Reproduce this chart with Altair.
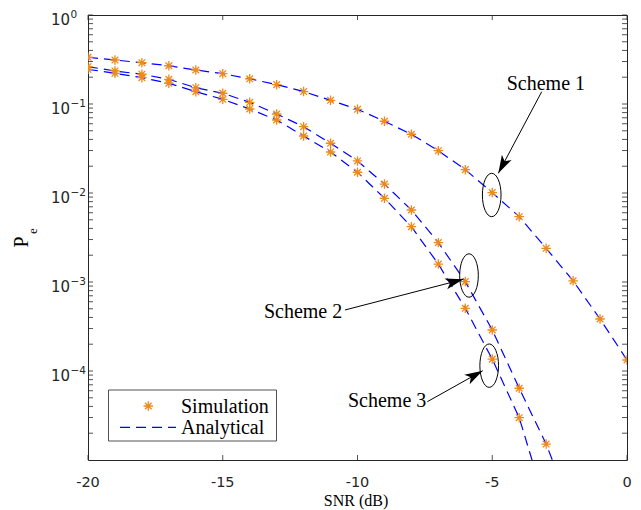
import math
import altair as alt
import pandas as pd

# ---------------- data ----------------
snr_s1 = list(range(-20, 1))
pe_s1 = [0.335, 0.312, 0.291, 0.269, 0.241, 0.219, 0.192, 0.165, 0.138, 0.110,
         0.0872, 0.064, 0.0457, 0.0299, 0.0183, 0.0101, 0.00542, 0.00239,
         0.00103, 3.84e-4, 1.33e-4]

snr_s23 = list(range(-20, -2))
pe_s2 = [0.2625, 0.235, 0.216, 0.1895, 0.1525, 0.132, 0.1045, 0.0772, 0.0556,
         0.0362, 0.0229, 0.0126, 0.00644, 0.00277, 0.00101, 2.89e-4, 6.4e-5,
         1.51e-5]
pe_s3 = [0.2454, 0.2213, 0.1975, 0.171, 0.1375, 0.113, 0.0879, 0.0661, 0.0437,
         0.0289, 0.0171, 0.00872, 0.00418, 0.00159, 5.06e-4, 1.36e-4, 2.99e-5,
         3.0e-6]
# analytical curve continues below the visible range
ana_tail_snr_s2 = [-2]
ana_tail_pe_s2 = [2.5e-6]

x_ticks = [-20, -15, -10, -5, 0]
x_tick_labels = ["-20", "-15", "-10", "-5", "0"]
y_major = [1.0, 1e-1, 1e-2, 1e-3, 1e-4]
y_exp = ["0", "\u22121", "\u22122", "\u22123", "\u22124"]
y_minor = [m * 10.0 ** k for k in range(-5, 0) for m in range(2, 10)]

ann_label = ["Scheme 1", "Scheme 2", "Scheme 3"]
ann_text_snr = [-3.01, -12.02, -8.90]
ann_text_pe = [0.1455, 3.94e-4, 3.99e-5]
ann_from_snr = [-3.165, -10.464, -7.41]
ann_from_pe = [0.1375, 4.85e-4, 4.52e-5]
ann_tip_snr = [-4.775, -6.074, -5.355]
ann_tip_pe = [0.01665, 1.072e-3, 1.007e-4]
ann_ell_snr = [-5.02, -5.863, -5.113]
ann_ell_pe = [0.0095, 1.183e-3, 1.148e-4]

legend_labels = ["Simulation", "Analytical"]

# ---------------- geometry / style ----------------
W, H = 539, 445
X_DOM = [-20, 0]
Y_DOM = [1e-5, 1.0]
BLUE = "#0000FF"
ORANGE = "#EE8A1C"
AX = "#262626"
SERIF = "Liberation Serif"
SANS = "DejaVu Sans"

xs = alt.Scale(domain=X_DOM, nice=False, zero=False)
ys = alt.Scale(type="log", domain=Y_DOM, nice=False)


def X(f):
    return alt.X(f, type="quantitative", scale=xs, axis=None)


def Y(f):
    return alt.Y(f, type="quantitative", scale=ys, axis=None)


def px(s):
    return (s - X_DOM[0]) / (X_DOM[1] - X_DOM[0]) * W


def py(p):
    return (math.log10(Y_DOM[1]) - math.log10(p)) / (math.log10(Y_DOM[1]) - math.log10(Y_DOM[0])) * H


# ---------------- tables ----------------
sim = pd.concat([
    pd.DataFrame({"snr": snr_s1, "pe": pe_s1, "scheme": "Scheme 1"}),
    pd.DataFrame({"snr": snr_s23, "pe": pe_s2, "scheme": "Scheme 2"}),
    pd.DataFrame({"snr": snr_s23, "pe": pe_s3, "scheme": "Scheme 3"}),
], ignore_index=True)
ana = pd.concat([
    sim,
    pd.DataFrame({"snr": ana_tail_snr_s2, "pe": ana_tail_pe_s2, "scheme": "Scheme 2"}),
], ignore_index=True).sort_values(["scheme", "snr"])

ann = pd.DataFrame({
    "label": ann_label, "tx": ann_text_snr, "ty": ann_text_pe,
    "fx": ann_from_snr, "fy": ann_from_pe, "hx": ann_tip_snr, "hy": ann_tip_pe,
    "ex": ann_ell_snr, "ey": ann_ell_pe,
})
ann["ang"] = [
    (math.degrees(math.atan2(px(hx) - px(fx), -(py(hy) - py(fy)))) + 360) % 360
    for fx, fy, hx, hy in zip(ann.fx, ann.fy, ann.hx, ann.hy)
]

xt = pd.DataFrame({"v": x_ticks, "lab": x_tick_labels})
ymaj = pd.DataFrame({"v": y_major, "base": ["10"] * len(y_major), "exp": y_exp})
yall = pd.DataFrame({"v": y_major + y_minor})
leg = pd.DataFrame({"lab": legend_labels})
one = pd.DataFrame({"k": [0]})

STAR = "M-1,0L1,0M0,-1L0,1M-0.7,-0.7L0.7,0.7M-0.7,0.7L0.7,-0.7"
HEAD = "M0,0L0.55,1.8L0,1.35L-0.55,1.8Z"
ELL = ("M0,-1C0.236,-1 0.43,-0.552 0.43,0C0.43,0.552 0.236,1 0,1"
       "C-0.236,1 -0.43,0.552 -0.43,0C-0.43,-0.552 -0.236,-1 0,-1Z")

# ---------------- layers ----------------
lines = alt.Chart(ana).mark_line(color=BLUE, strokeWidth=1.2, strokeDash=[10, 6], clip=True).encode(
    x=X("snr"), y=Y("pe"), detail="scheme:N")
stars = alt.Chart(sim).mark_point(shape=STAR, filled=False, color=ORANGE, strokeWidth=1.3,
                                  size=90, opacity=1, clip=True).encode(x=X("snr"), y=Y("pe"))

# ticks (inward, on all four sides)
tick_len = 5
yt_left = alt.Chart(yall).mark_rule(color=AX, strokeWidth=0.8).encode(
    y=Y("v"), x=alt.value(0), x2=alt.value(tick_len))
yt_right = alt.Chart(yall).mark_rule(color=AX, strokeWidth=0.8).encode(
    y=Y("v"), x=alt.value(W - tick_len), x2=alt.value(W))
xt_bot = alt.Chart(xt).mark_rule(color=AX, strokeWidth=0.8).encode(
    x=X("v"), y=alt.value(H - tick_len), y2=alt.value(H))
xt_top = alt.Chart(xt).mark_rule(color=AX, strokeWidth=0.8).encode(
    x=X("v"), y=alt.value(0), y2=alt.value(tick_len))

# tick labels
x_lab = alt.Chart(xt).mark_text(font=SANS, fontSize=14.5, color=AX, align="center",
                                baseline="alphabetic").encode(
    x=X("v"), y=alt.value(H + 27), text="lab:N")
y_lab10 = alt.Chart(ymaj).mark_text(font=SANS, fontSize=15, color=AX, align="right",
                                    baseline="alphabetic", dy=10).encode(
    y=Y("v"), x=alt.value(-18), text="base:N")
y_labexp = alt.Chart(ymaj).mark_text(font=SANS, fontSize=10.5, color=AX, align="left",
                                     baseline="alphabetic", dy=2.5).encode(
    y=Y("v"), x=alt.value(-17.5), text="exp:N")

# axis titles
x_title = alt.Chart(one).mark_text(font=SERIF, fontSize=16, color="#000", align="center",
                                   baseline="alphabetic", text="SNR (dB)").encode(
    x=alt.value(268), y=alt.value(491))
y_title_p = alt.Chart(one).mark_text(font=SERIF, fontSize=20, color="#000", align="center",
                                     baseline="alphabetic", angle=270, text="P").encode(
    x=alt.value(-60), y=alt.value(227))
y_title_e = alt.Chart(one).mark_text(font=SERIF, fontSize=13, color="#000", align="center",
                                     baseline="alphabetic", angle=270, text="e").encode(
    x=alt.value(-51), y=alt.value(216))

# annotations
ann_text = alt.Chart(ann).mark_text(font=SERIF, fontSize=20, color="#000", align="center",
                                    baseline="alphabetic").encode(
    x=X("tx"), y=Y("ty"), text="label:N")
ann_shaft = alt.Chart(ann).mark_rule(color="#000", strokeWidth=1).encode(
    x=X("fx"), y=Y("fy"), x2="hx", y2="hy")
ann_head = alt.Chart(ann).mark_point(shape=HEAD, filled=True, color="#000", size=400,
                                     opacity=1, strokeWidth=0).encode(
    x=X("hx"), y=Y("hy"), angle=alt.Angle("ang", type="quantitative", scale=None))
ann_ell = alt.Chart(ann).mark_point(shape=ELL, filled=False, color="#000", size=1884,
                                    opacity=1, strokeWidth=1).encode(x=X("ex"), y=Y("ey"))

# legend (drawn by hand to mimic the boxed legend)
leg_box = alt.Chart(one).mark_rect(fill="white", stroke=AX, strokeWidth=0.8).encode(
    x=alt.value(20.5), x2=alt.value(188.5), y=alt.value(375), y2=alt.value(426))
leg_star = alt.Chart(one).mark_point(shape=STAR, filled=False, color=ORANGE, strokeWidth=1.3,
                                     size=90, opacity=1).encode(x=alt.value(60.3), y=alt.value(391))
leg_line = alt.Chart(one).mark_rule(color=BLUE, strokeWidth=1.2, strokeDash=[10, 6]).encode(
    x=alt.value(32), x2=alt.value(88), y=alt.value(412.3))
leg_text = alt.Chart(leg).mark_text(font=SERIF, fontSize=20, color="#000", align="left",
                                    baseline="alphabetic").encode(
    x=alt.value(93),
    y=alt.Y("lab:N", scale=alt.Scale(domain=legend_labels, range=[397.5, 418.5], padding=0),
            axis=None),
    text="lab:N")

chart = alt.layer(
    lines, stars,
    yt_left, yt_right, xt_bot, xt_top,
    x_lab, y_lab10, y_labexp,
    x_title, y_title_p, y_title_e,
    ann_shaft, ann_head, ann_ell, ann_text,
    leg_box, leg_star, leg_line, leg_text,
).resolve_scale(y="shared", x="shared").properties(
    width=W, height=H,
    autosize=alt.AutoSizeParams(type="none"),
    padding={"left": 80, "top": 7, "right": 6, "bottom": 54},
    background="white",
).configure_view(stroke=AX, strokeWidth=1)

chart.save("out.html", embed_options={"renderer": "svg", "actions": False})
